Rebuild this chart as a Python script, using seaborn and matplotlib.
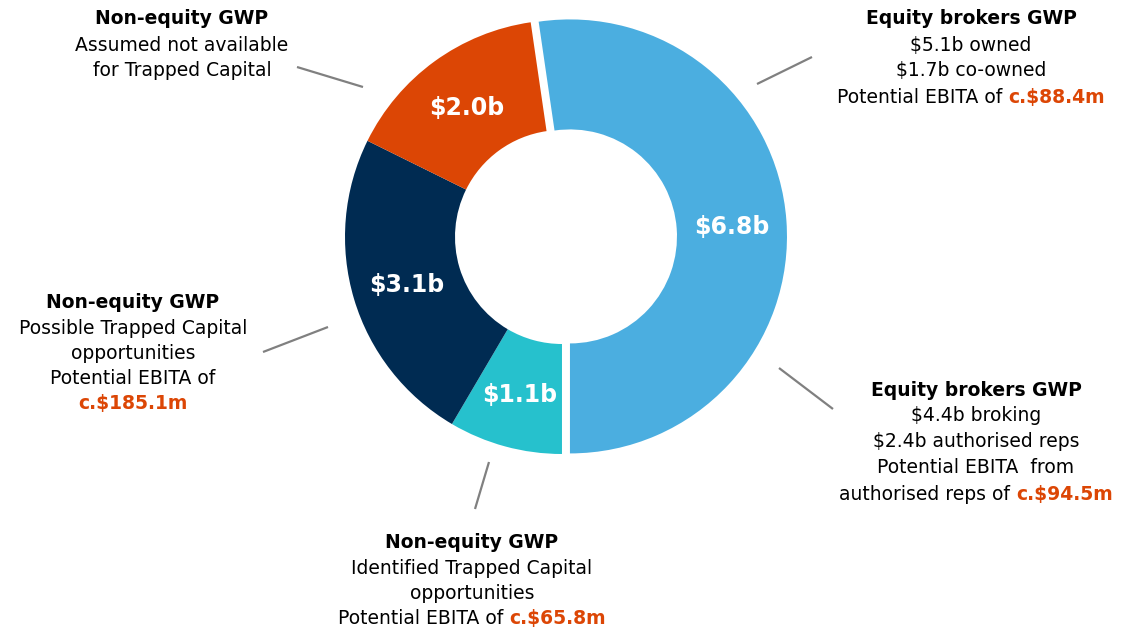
import matplotlib
matplotlib.use("Agg")
import matplotlib.pyplot as plt
import seaborn as sns
import numpy as np

# GWP split (clockwise from the top)
segments = ["Equity brokers", "Non-equity identified", "Non-equity possible", "Non-equity not available"]
gwp_bn = [6.8, 1.1, 3.1, 2.0]
seg_colors = ["#4BAEE0", "#26C1CD", "#002B52", "#DC4605"]
explode_px = [8, 0, 0, 0]

ORANGE = "#DC4605"
W, H = 1122, 630

# callout texts: list of lines, each line = list of (text, style)
callout_equity_top = [
    [("Equity brokers GWP", "b")],
    [("$5.1b owned", "n")],
    [("$1.7b co-owned", "n")],
    [("Potential EBITA of ", "n"), ("c.$88.4m", "o")],
]
callout_equity_bottom = [
    [("Equity brokers GWP", "b")],
    [("$4.4b broking", "n")],
    [("$2.4b authorised reps", "n")],
    [("Potential EBITA  from", "n")],
    [("authorised reps of ", "n"), ("c.$94.5m", "o")],
]
callout_identified = [
    [("Non-equity GWP", "b")],
    [("Identified Trapped Capital", "n")],
    [("opportunities", "n")],
    [("Potential EBITA of ", "n"), ("c.$65.8m", "o")],
]
callout_possible = [
    [("Non-equity GWP", "b")],
    [("Possible Trapped Capital", "n")],
    [("opportunities", "n")],
    [("Potential EBITA of", "n")],
    [("c.$185.1m", "o")],
]
callout_na = [
    [("Non-equity GWP", "b")],
    [("Assumed not available", "n")],
    [("for Trapped Capital", "n")],
]

sns.set_theme(style="white")
plt.rcParams['font.family'] = ['DejaVu Sans']

fig = plt.figure(figsize=(W / 100, H / 100), dpi=100)
ax = fig.add_axes([0, 0, 1, 1])


def py(y):  # pixel row from top -> data y
    return H - y


cx, cy, R, ring = 562, py(237), 217, 110
wedges, _ = ax.pie(gwp_bn, colors=seg_colors, startangle=98.3, counterclock=False,
                   radius=R, center=(cx, cy), explode=explode_px,
                   wedgeprops=dict(width=ring, linewidth=0))

for w, v in zip(wedges, gwp_bn):
    th = np.deg2rad((w.theta1 + w.theta2) / 2)
    r = w.r - w.width / 2
    x0, y0 = w.center
    ax.text(x0 + r * np.cos(th), y0 + r * np.sin(th) - 9, f"${v:.1f}b", color="white",
            fontsize=17, fontweight="bold", ha="center", va="baseline", parse_math=False)

renderer = fig.canvas.get_renderer()
STY = {"b": ("bold", "black"), "n": ("normal", "black"), "o": ("bold", ORANGE)}


def put_block(lines, xc, ys, size=13.5):
    for runs, y in zip(lines, ys):
        txts = []
        for s, st in runs:
            fw, col = STY[st]
            txts.append(ax.text(0, py(y + 6), s, fontsize=size, fontweight=fw, color=col,
                                ha="left", va="baseline", parse_math=False))
        widths = [t.get_window_extent(renderer).width for t in txts]
        x = xc - sum(widths) / 2
        for t, wd in zip(txts, widths):
            t.set_x(x)
            x += wd


put_block(callout_na, 182, [18, 45, 70])
put_block(callout_equity_top, 971, [18, 45, 70, 97])
put_block(callout_possible, 133, [302, 328, 353, 378, 403])
put_block(callout_equity_bottom, 976, [390, 415, 441, 467, 494])
put_block(callout_identified, 472, [542, 568, 593, 618])

# leader lines
leaders = [((297, 67), (363, 87)), ((757, 84), (812, 57)), ((263, 352), (328, 327)),
           ((779, 368), (833, 409)), ((489, 462), (475, 509))]
for (x1, y1), (x2, y2) in leaders:
    ax.plot([x1, x2], [py(y1), py(y2)], color="#808080", lw=1.6, solid_capstyle="butt")

ax.set_xlim(0, W)
ax.set_ylim(0, H)
ax.set_aspect("auto")
ax.axis("off")

fig.savefig("out.png", dpi=100)
